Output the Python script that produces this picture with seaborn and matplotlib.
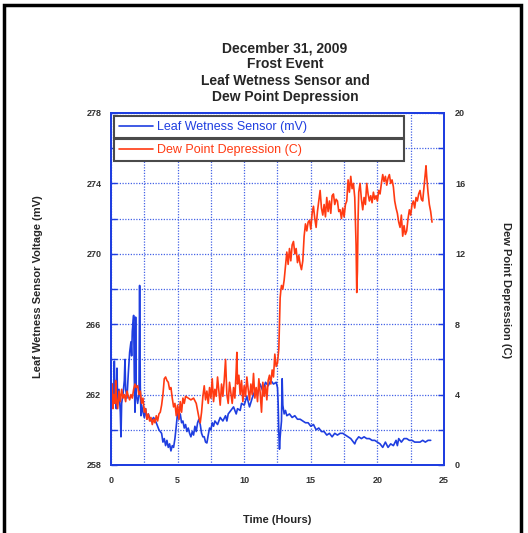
import numpy as np
import pandas as pd
import seaborn as sns
import matplotlib.pyplot as plt
from matplotlib.patches import Rectangle
from matplotlib.ticker import MultipleLocator, FixedLocator

sns.set_style('white')
plt.rcParams['font.family'] = ['Liberation Sans', 'DejaVu Sans']

# 叶面湿度传感器 (mV)
lw_time = [0.0, 0.1, 0.2, 0.25, 0.3, 0.4, 0.45, 0.5, 0.6, 0.7, 0.75, 0.8, 0.9, 1.0, 1.05, 1.1,
           1.2, 1.3, 1.4, 1.5, 1.55, 1.6, 1.7, 1.75, 1.8, 1.85, 1.9, 2.0, 2.1, 2.15, 2.2, 2.25,
           2.3, 2.4, 2.5, 2.6, 2.7, 2.8, 3.0, 3.2, 3.4, 3.6, 3.8, 3.9, 4.0, 4.1, 4.2, 4.3,
           4.4, 4.5, 4.6, 4.7, 4.8, 4.9, 5.0, 5.1, 5.2, 5.3, 5.4, 5.5, 5.6, 5.7, 5.8, 5.9,
           6.0, 6.1, 6.2, 6.3, 6.4, 6.5, 6.6, 6.7, 6.8, 6.9, 7.0, 7.1, 7.2, 7.3, 7.4, 7.5,
           7.6, 7.7, 7.8, 8.0, 8.2, 8.4, 8.6, 8.7, 8.8, 9.0, 9.2, 9.4, 9.5, 9.7, 9.8, 10.0,
           10.2, 10.4, 10.6, 10.8, 11.0, 11.2, 11.4, 11.6, 11.8, 12.0, 12.2, 12.4, 12.5, 12.55,
           12.6, 12.65, 12.7, 12.8, 12.85, 12.9, 13.0, 13.1, 13.2, 13.4, 13.6, 13.8, 14.0, 14.2,
           14.4, 14.6, 14.8, 15.0, 15.2, 15.4, 15.6, 15.8, 16.0, 16.2, 16.4, 16.6, 16.8, 17.0,
           17.2, 17.4, 17.6, 17.8, 18.0, 18.2, 18.3, 18.4, 18.6, 18.8, 19.0, 19.2, 19.4, 19.6,
           19.8, 20.0, 20.2, 20.4, 20.6, 20.8, 21.0, 21.2, 21.4, 21.5, 21.6, 21.8, 22.0, 22.2,
           22.4, 22.6, 22.8, 23.0, 23.2, 23.4, 23.6, 23.8, 24.0]
lw_mv = [261.8, 262.6, 261.5, 263.9, 262.0, 261.2, 263.5, 261.6, 262.3, 261.0, 259.6, 261.5,
         262.0, 262.8, 264.0, 262.3, 261.8, 263.2, 264.4, 265.0, 264.2, 265.6, 266.5, 263.0,
         261.0, 266.4, 262.0, 261.5, 262.0, 268.2, 262.5, 260.8, 261.4, 261.0, 260.7, 261.2,
         260.6, 260.9, 260.5, 260.7, 260.4, 260.0, 259.8, 259.3, 259.5, 259.1, 259.4, 259.0,
         259.2, 258.8, 259.1, 259.0, 259.5, 260.2, 261.0, 260.6, 260.9, 260.4, 260.5, 260.1,
         260.3, 259.9, 260.1, 259.8, 259.6, 259.9, 259.7, 260.2, 259.9, 260.4, 260.6, 260.3,
         259.8, 259.6, 259.6, 259.3, 259.25, 259.7, 260.1, 260.0, 260.4, 260.2, 260.5, 260.3,
         260.7, 260.5, 260.8, 260.5, 260.9, 261.1, 261.3, 260.9, 261.2, 261.1, 261.5, 261.4,
         261.9, 261.3, 261.8, 262.2, 262.0, 262.6, 262.2, 262.7, 262.5, 262.8, 262.6, 262.7,
         262.4, 261.5, 259.8, 258.9, 259.6, 260.5, 262.9, 261.4, 260.9, 261.1, 260.8, 260.9,
         260.7, 260.8, 260.6, 260.6, 260.5, 260.4, 260.4, 260.2, 260.3, 260.0, 260.1, 259.9,
         259.9, 259.7, 259.8, 259.6, 259.8, 259.7, 259.8, 259.8, 259.7, 259.6, 259.5, 259.3,
         259.2, 259.4, 259.6, 259.5, 259.6, 259.5, 259.5, 259.4, 259.4, 259.3, 259.2, 259.0,
         259.3, 259.0, 259.2, 259.1, 259.4, 259.1, 259.5, 259.3, 259.5, 259.5, 259.4, 259.4,
         259.3, 259.3, 259.3, 259.4, 259.3, 259.4, 259.4]

# 露点差 (C)
dp_time = [0.0, 0.1, 0.15, 0.2, 0.3, 0.35, 0.4, 0.5, 0.6, 0.7, 0.8, 0.9, 1.0, 1.1, 1.2, 1.3,
           1.4, 1.5, 1.6, 1.7, 1.8, 1.9, 2.0, 2.1, 2.2, 2.3, 2.4, 2.5, 2.6, 2.7, 2.8, 2.9,
           3.0, 3.1, 3.2, 3.3, 3.4, 3.5, 3.6, 3.7, 3.8, 3.9, 4.0, 4.1, 4.2, 4.3, 4.4, 4.5,
           4.6, 4.7, 4.8, 4.9, 5.0, 5.1, 5.2, 5.3, 5.4, 5.5, 5.6, 5.8, 6.0, 6.2, 6.4, 6.5,
           6.6, 6.7, 6.8, 6.9, 7.0, 7.1, 7.2, 7.3, 7.4, 7.5, 7.6, 7.7, 7.8, 7.9, 8.0, 8.1,
           8.2, 8.3, 8.4, 8.5, 8.6, 8.7, 8.8, 8.9, 9.0, 9.1, 9.2, 9.3, 9.4, 9.45, 9.5, 9.6,
           9.7, 9.8, 9.9, 10.0, 10.1, 10.2, 10.3, 10.4, 10.5, 10.6, 10.7, 10.8, 10.9, 11.0, 11.1, 11.2,
           11.3, 11.4, 11.5, 11.6, 11.7, 11.8, 11.9, 12.0, 12.1, 12.2, 12.3, 12.4, 12.5, 12.6,
           12.65, 12.7, 12.75, 12.8, 12.9, 13.0, 13.1, 13.2, 13.3, 13.4, 13.5, 13.6, 13.7, 13.8,
           13.9, 14.0, 14.1, 14.2, 14.3, 14.4, 14.5, 14.6, 14.7, 14.8, 14.9, 15.0, 15.1, 15.2,
           15.3, 15.4, 15.5, 15.6, 15.7, 15.8, 15.9, 16.0, 16.1, 16.2, 16.3, 16.4, 16.5, 16.6,
           16.7, 16.8, 16.9, 17.0, 17.1, 17.2, 17.3, 17.4, 17.5, 17.6, 17.7, 17.8, 17.9, 18.0,
           18.1, 18.2, 18.3, 18.4, 18.45, 18.5, 18.55, 18.6, 18.7, 18.8, 18.9, 19.0, 19.1, 19.2,
           19.3, 19.4, 19.5, 19.6, 19.7, 19.8, 19.9, 20.0, 20.1, 20.2, 20.3, 20.4, 20.5, 20.6,
           20.7, 20.8, 20.9, 21.0, 21.1, 21.2, 21.3, 21.4, 21.5, 21.6, 21.7, 21.8, 21.9, 22.0,
           22.1, 22.2, 22.3, 22.4, 22.5, 22.6, 22.7, 22.8, 22.9, 23.0, 23.1, 23.2, 23.3, 23.4,
           23.5, 23.6, 23.65, 23.7, 23.8, 23.9, 24.0, 24.1]
dp_c = [3.6, 4.6, 3.2, 4.0, 3.5, 4.8, 3.8, 3.2, 4.2, 3.6, 4.3, 3.8, 4.0, 3.6, 4.2, 3.9,
        3.7, 4.0, 3.8, 4.3, 4.6, 4.4, 4.5, 4.0, 4.2, 3.5, 3.8, 3.0, 3.2, 2.6, 2.9, 2.5,
        2.7, 2.3, 2.6, 2.4, 2.8, 2.5, 2.9, 3.0, 3.4, 4.0, 4.9, 5.0, 4.8, 4.7, 4.3, 4.4,
        3.8, 3.3, 3.5, 2.8, 3.4, 2.6, 3.6, 3.0, 3.8, 3.5, 3.9, 3.8, 3.7, 3.8, 3.5, 3.1,
        2.7, 2.4, 3.0, 3.9, 4.5, 3.7, 4.2, 3.5, 4.4, 3.8, 4.9, 3.6, 4.3, 3.9, 5.0, 4.2,
        3.4, 4.6, 3.9, 4.8, 6.0, 4.0, 3.5, 4.7, 4.1, 3.5, 4.4, 3.8, 5.4, 6.4, 4.6, 5.1,
        4.0, 4.8, 3.6, 4.5, 3.9, 5.0, 4.3, 3.7, 4.6, 4.0, 5.2, 3.8, 4.4, 3.6, 4.9, 4.1,
        3.0, 4.7, 3.9, 4.5, 3.7, 4.8, 5.1, 4.6, 5.4, 5.0, 6.3, 5.6, 5.8, 6.6,
        8.0, 9.5, 9.9, 10.2, 10.0, 10.5, 11.3, 12.1, 11.4, 12.3, 11.6, 12.5, 12.7, 12.0,
        12.3, 11.5, 11.9, 11.4, 11.1, 11.6, 13.0, 13.7, 13.3, 13.8, 13.9, 13.4, 14.3, 14.7,
        14.0, 13.5, 14.4, 15.0, 15.6, 14.6, 14.2, 14.8, 14.1, 15.2, 14.4, 15.0, 14.3, 15.3,
        15.4, 14.8, 15.1, 15.0, 14.4, 14.5, 14.0, 14.6, 14.1, 14.8, 15.0, 16.2, 15.5, 16.4,
        15.7, 16.0, 15.2, 12.5, 9.8, 11.0, 14.0, 15.5, 16.0, 15.1, 14.5, 15.2, 14.8, 16.0,
        15.4, 15.0, 15.3, 14.9, 15.5, 15.1, 15.3, 15.0, 15.6, 15.4, 16.0, 16.5, 16.1, 16.4,
        15.9, 16.3, 16.5, 16.0, 16.2, 15.8, 15.0, 14.6, 14.3, 13.8, 13.5, 14.2, 13.0, 13.6,
        13.1, 13.3, 14.0, 14.5, 14.2, 14.8, 15.0, 14.6, 15.2, 15.0, 15.4, 15.6, 15.1, 15.0,
        15.8, 16.6, 17.0, 16.4, 15.5, 14.8, 14.4, 13.8]

mv_ticks = [258, 262, 266, 270, 274, 278]
c_ticks = [0, 4, 8, 12, 16, 20]

blue = '#1f3ee0'
red = '#ff3a12'
grid_blue = '#4563e6'

df_lw = pd.DataFrame({'time': lw_time, 'mv': lw_mv})
df_dp = pd.DataFrame({'time': dp_time, 'c': dp_c})

fig = plt.figure(figsize=(5.28, 5.33), dpi=100)
ax = fig.add_axes([0.2102, 0.1276, 0.6307, 0.6604])
ax2 = ax.twinx()

sns.lineplot(data=df_lw, x='time', y='mv', ax=ax, color=blue, lw=1.2,
             sort=False, estimator=None, legend=False)
sns.lineplot(data=df_dp, x='time', y='c', ax=ax2, color=red, lw=1.2,
             sort=False, estimator=None, legend=False)

ax.set_xlim(0, 25)
ax.set_ylim(258, 278)
ax2.set_ylim(0, 20)
ax.xaxis.set_major_locator(MultipleLocator(5))
ax.xaxis.set_minor_locator(MultipleLocator(2.5))
ax.yaxis.set_major_locator(FixedLocator(mv_ticks))
ax.yaxis.set_minor_locator(MultipleLocator(2))
ax2.yaxis.set_major_locator(FixedLocator(c_ticks))
ax2.yaxis.set_minor_locator(MultipleLocator(2))

ax.grid(which='both', color=grid_blue, linestyle=(0, (1, 1.2)), lw=0.9)
ax2.grid(False)

for a in (ax, ax2):
    for s in a.spines.values():
        s.set_color(blue)
        s.set_linewidth(1.4)
    a.tick_params(which='both', direction='in', color=blue, width=1.0, length=4,
                  labelsize=6.5, labelcolor='#333333')
    for lab in a.get_yticklabels() + a.get_xticklabels():
        lab.set_fontweight('bold')
ax.tick_params(axis='x', pad=8)
ax.tick_params(axis='y', pad=7)
ax2.tick_params(axis='y', pad=8)

ax.set_xlabel('Time (Hours)', fontsize=8, fontweight='bold')
ax.set_ylabel('Leaf Wetness Sensor Voltage (mV)', fontsize=8, fontweight='bold')
ax2.set_ylabel('Dew Point Depression (C)', fontsize=8, fontweight='bold', rotation=-90)
ax.xaxis.set_label_coords(0.5, -0.142)
ax.yaxis.set_label_coords(-0.205, 0.506)
ax2.yaxis.set_label_coords(1.2, 0.497)

fig.text(0.54, 0.864, 'December 31, 2009\nFrost Event\nLeaf Wetness Sensor and\nDew Point Depression',
         ha='center', va='center', fontsize=10, fontweight='bold', linespacing=1.2)

# 图例：两个上下相接的方框
h_lw = ax.get_lines()[0]
h_dp = ax2.get_lines()[0]
leg_kw = dict(mode='expand', loc='upper left', fontsize=9, handlelength=2.7,
              handletextpad=0.35, borderpad=0.4, borderaxespad=0, fancybox=False,
              framealpha=1, edgecolor='#4a4a4a')
leg1 = ax2.legend([h_lw], ['Leaf Wetness Sensor (mV)'], bbox_to_anchor=(0.009, 0.991, 0.871, 0.0),
                  labelcolor=blue, **leg_kw)
leg1.get_frame().set_linewidth(1.5)
ax2.add_artist(leg1)
leg2 = ax2.legend([h_dp], ['Dew Point Depression (C)'], bbox_to_anchor=(0.009, 0.925, 0.871, 0.0),
                  labelcolor=red, **leg_kw)
leg2.get_frame().set_linewidth(1.5)

fig.patches.append(Rectangle((0.008, -0.1), 0.979, 1.091, transform=fig.transFigure,
                             fill=False, lw=2.5, edgecolor='black'))

plt.savefig('out.png', dpi=100)
